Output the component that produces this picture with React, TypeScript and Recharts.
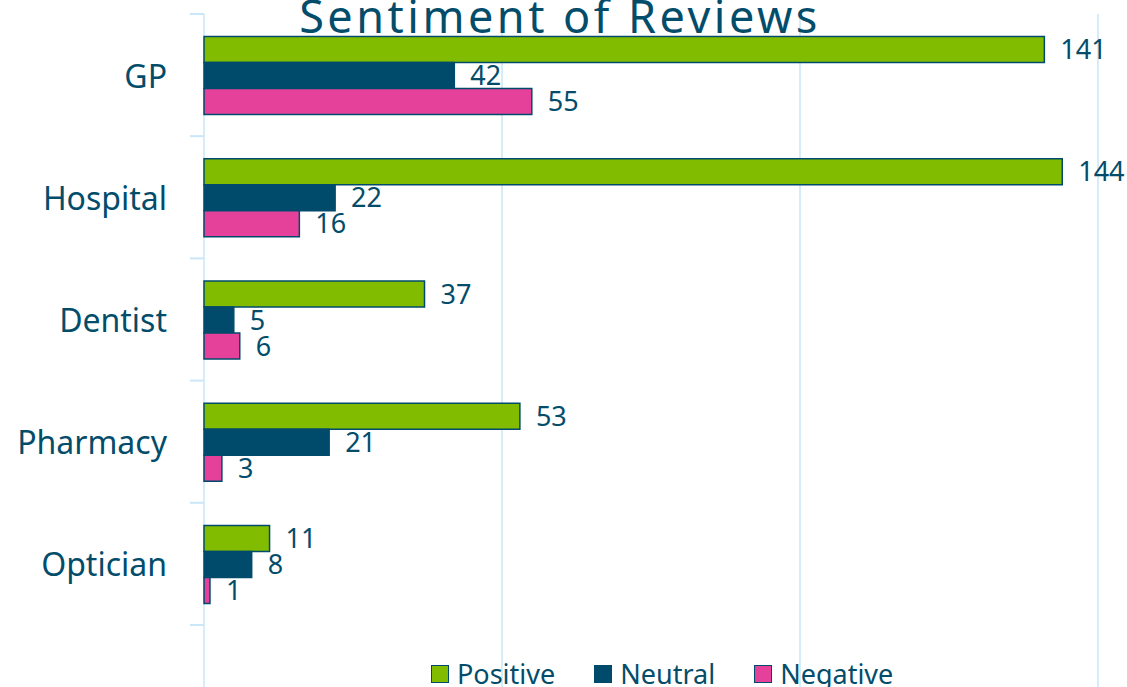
import { BarChart, Bar, XAxis, YAxis, CartesianGrid, LabelList, Legend } from "recharts";

const CATEGORIES = ["GP", "Hospital", "Dentist", "Pharmacy", "Optician"];
const POSITIVE = [141, 144, 37, 53, 11];
const NEUTRAL = [42, 22, 5, 21, 8];
const NEGATIVE = [55, 16, 6, 3, 1];
const X_TICKS = [0, 50, 100, 150];

const INK = "#034d6b";
const NAVY = "#004b6b";
const GRID = "#c9e7f7";
const FONT = "'Noto Sans', sans-serif";

const SERIES = [
  { key: "Positive", fill: "#82bc00" },
  { key: "Neutral", fill: NAVY },
  { key: "Negative", fill: "#e6419a" },
];
const SERIES_ORDER = SERIES.map((s) => s.key);

const data = CATEGORIES.map((name, i) => ({
  name,
  Positive: POSITIVE[i],
  Neutral: NEUTRAL[i],
  Negative: NEGATIVE[i],
}));

const LABEL_GAP = 37;
const TICK_LEN = 14;

// category label at band centre, small tick marks on the band boundaries
function CategoryTick(props: any) {
  const { x, y, payload, index, visibleTicksCount } = props;
  const half = payload?.offset || 61;
  const axisX = x + LABEL_GAP;
  return (
    <g>
      <line x1={axisX - TICK_LEN} x2={axisX} y1={y - half} y2={y - half} stroke={GRID} strokeWidth={2} />
      {index === visibleTicksCount - 1 && (
        <line x1={axisX - TICK_LEN} x2={axisX} y1={y + half} y2={y + half} stroke={GRID} strokeWidth={2} />
      )}
      <text
        x={x}
        y={y}
        textAnchor="end"
        dominantBaseline="central"
        fill={INK}
        fontSize={32}
        fontFamily={FONT}
      >
        {payload.value}
      </text>
    </g>
  );
}

function LegendContent({ payload }: any) {
  const items = [...(payload || [])].sort(
    (a: any, b: any) => SERIES_ORDER.indexOf(a.value) - SERIES_ORDER.indexOf(b.value)
  );
  return (
    <div
      style={{
        display: "flex",
        alignItems: "center",
        fontFamily: FONT,
        fontSize: 27,
        lineHeight: "28px",
        color: INK,
        whiteSpace: "nowrap",
      }}
    >
      {items.map((p: any) => (
        <div key={p.value} style={{ display: "flex", alignItems: "center", marginRight: 39 }}>
          <span
            style={{
              display: "inline-block",
              width: 16,
              height: 16,
              background: p.color,
              border: `1.5px solid ${NAVY}`,
              marginRight: 8,
            }}
          />
          {p.value}
        </div>
      ))}
    </div>
  );
}

export default function App() {
  return (
    <div
      style={{
        position: "fixed",
        left: 0,
        top: 0,
        width: 1127,
        height: 687,
        overflow: "hidden",
        background: "#fff",
        fontFamily: FONT,
      }}
    >
      <BarChart
        width={1127}
        height={687}
        data={data}
        layout="vertical"
        margin={{ top: 14, right: 29, bottom: 62, left: 0 }}
        barCategoryGap="18.5%"
        barGap={0}
      >
        <CartesianGrid horizontal={false} stroke={GRID} strokeWidth={1.5} y={14} height={673} />
        <XAxis type="number" domain={[0, 150]} ticks={X_TICKS} hide />
        <YAxis
          type="category"
          dataKey="name"
          width={204}
          axisLine={false}
          tickLine={false}
          tickSize={0}
          tickMargin={LABEL_GAP}
          tick={<CategoryTick />}
          interval={0}
        />
        <Legend
          layout="horizontal"
          verticalAlign="middle"
          align="center"
          content={<LegendContent />}
          wrapperStyle={{ left: 431, top: 660, width: 600 }}
        />
        {SERIES.map((s) => (
          <Bar
            key={s.key}
            dataKey={s.key}
            fill={s.fill}
            stroke={NAVY}
            strokeWidth={1.5}
            isAnimationActive={false}
          >
            <LabelList
              dataKey={s.key}
              position="right"
              offset={16}
              fill={INK}
              fontSize={27}
              fontFamily={FONT}
            />
          </Bar>
        ))}
      </BarChart>
      <div
        style={{
          position: "absolute",
          top: -7,
          left: 0,
          width: 1120,
          textAlign: "center",
          fontSize: 45,
          lineHeight: "45px",
          letterSpacing: 3.5,
          color: INK,
          pointerEvents: "none",
        }}
      >
        Sentiment of Reviews
      </div>
    </div>
  );
}
